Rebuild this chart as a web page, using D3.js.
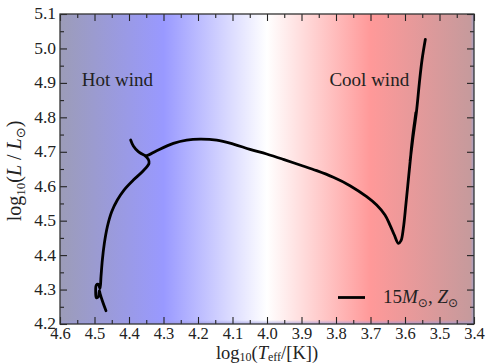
<!DOCTYPE html>
<html><head><meta charset="utf-8">
<script src="https://cdn.jsdelivr.net/npm/d3@7"></script>
<style>
html,body{margin:0;padding:0;background:#fff;}
svg{display:block;}
text{font-family:"Liberation Serif","DejaVu Serif",serif;fill:#222;}
</style></head><body>
<svg id="c" width="487" height="364"></svg>
<script>
// ---- data ----
const xTicks = [4.6,4.5,4.4,4.3,4.2,4.1,4.0,3.9,3.8,3.7,3.6,3.5,3.4];
const yTicks = [4.2,4.3,4.4,4.5,4.6,4.7,4.8,4.9,5.0,5.1];
const xMinor = [4.55,4.45,4.35,4.25,4.15,4.05,3.95,3.85,3.75,3.65,3.55,3.45];
const yMinor = [4.25,4.35,4.45,4.55,4.65,4.75,4.85,4.95,5.05];
// background colour stops (logTeff, colour)
const bgTemp   = [4.6, 4.3, 4.0, 3.7, 3.41, 3.4];
const bgColour = ["#9c9cb8", "#9999ff", "#ffffff", "#ff9999", "#c69a9c", "#a4a2cc"];
// evolutionary track: log Teff, log L
const trackTeff = [4.4667,4.4763,4.4841,4.4860,4.4889,4.4947,4.4966,4.4947,4.4889,4.4841,4.4812,4.4773,4.4715,4.4628,4.4502,4.4338,4.4145,4.3874,4.3585,4.3420,4.3440,4.3565,4.3730,4.3874,4.3952,4.3874,4.3730,4.3565,4.3488,4.3198,4.2715,4.2329,4.1942,4.1459,4.0976,4.0493,4.0010,3.9527,3.9043,3.8560,3.8077,3.7594,3.7111,3.6821,3.6580,3.6435,3.6309,3.6193,3.6116,3.6048,3.5971,3.5894,3.5817,3.5739,3.5681,3.5778,3.5855,3.5778,3.5662,3.5585,3.5507,3.5410];
const trackLum  = [4.2386,4.2647,4.2890,4.2967,4.2792,4.2763,4.2938,4.3131,4.3151,4.3035,4.3373,4.3857,4.4341,4.4825,4.5261,4.5599,4.5890,4.6180,4.6451,4.6664,4.6780,4.6906,4.7003,4.7167,4.7341,4.7167,4.7003,4.6906,4.6887,4.7032,4.7245,4.7341,4.7370,4.7341,4.7225,4.7071,4.6935,4.6780,4.6616,4.6451,4.6258,4.6016,4.5696,4.5454,4.5164,4.4873,4.4583,4.4341,4.4418,4.4777,4.5503,4.6277,4.7051,4.7729,4.8164,4.7438,4.6712,4.7341,4.8213,4.8987,4.9664,5.0265];
const regionLabels = [{t:"Hot wind", x:4.537, y:4.89}, {t:"Cool wind", x:3.819, y:4.89}];

// ---- chart ----
const svg = d3.select("#c");
const L=60, R=474, T=14, B=324;
const x = d3.scaleLinear().domain([4.6,3.4]).range([L,R]);
const y = d3.scaleLinear().domain([4.2,5.1]).range([B,T]);
const defs = svg.append("defs");
const grad = defs.append("linearGradient").attr("id","bg")
  .attr("gradientUnits","userSpaceOnUse").attr("x1",L).attr("x2",R).attr("y1",0).attr("y2",0);
bgTemp.forEach((t,i)=>grad.append("stop").attr("offset",(x(t)-L)/(R-L)).attr("stop-color",bgColour[i]));
svg.append("rect").attr("x",L).attr("y",T).attr("width",R-L).attr("height",B-T).attr("fill","url(#bg)");
const vg = defs.append("linearGradient").attr("id","bot").attr("x1",0).attr("x2",0).attr("y1",0).attr("y2",1);
vg.append("stop").attr("offset",0).attr("stop-color","#9a9ae0").attr("stop-opacity",0);
vg.append("stop").attr("offset",1).attr("stop-color","#9a9ae0").attr("stop-opacity",0.7);
svg.append("rect").attr("x",L).attr("y",B-4).attr("width",R-L).attr("height",4).attr("fill","url(#bot)");

// track
const pts = trackTeff.map((t,i)=>[t,trackLum[i]]);
svg.append("path").datum(pts)
  .attr("d", d3.line().x(d=>x(d[0])).y(d=>y(d[1])).curve(d3.curveCatmullRom.alpha(0.5)))
  .attr("fill","none").attr("stroke","#000").attr("stroke-width",2.8).attr("stroke-linejoin","round").attr("stroke-linecap","round");

// axes
const fmt = d3.format(".1f");
function styleAxis(g){ g.select(".domain").remove(); g.selectAll("line").attr("stroke","#222").attr("stroke-width",1.1); }
svg.append("g").attr("transform",`translate(0,${B})`)
  .call(d3.axisBottom(x).tickValues(xTicks).tickFormat(fmt).tickSizeInner(-7).tickSizeOuter(0).tickPadding(4))
  .call(styleAxis).call(g=>g.selectAll("text").attr("font-size",16.5).attr("font-family","Liberation Serif").attr("fill","#222").attr("dy","0.66em"));
svg.append("g").attr("transform",`translate(0,${B})`).call(d3.axisBottom(x).tickValues(xMinor).tickFormat("").tickSizeInner(-4).tickSizeOuter(0)).call(styleAxis);
svg.append("g").attr("transform",`translate(0,${T})`).call(d3.axisTop(x).tickValues(xTicks).tickFormat("").tickSizeInner(-7).tickSizeOuter(0)).call(styleAxis);
svg.append("g").attr("transform",`translate(0,${T})`).call(d3.axisTop(x).tickValues(xMinor).tickFormat("").tickSizeInner(-4).tickSizeOuter(0)).call(styleAxis);
svg.append("g").attr("transform",`translate(${L},0)`)
  .call(d3.axisLeft(y).tickValues(yTicks).tickFormat(fmt).tickSizeInner(-7).tickSizeOuter(0).tickPadding(4))
  .call(styleAxis).call(g=>g.selectAll("text").attr("font-size",17.5).attr("font-family","Liberation Serif").attr("fill","#222").attr("dy","0.28em"));
svg.append("g").attr("transform",`translate(${L},0)`).call(d3.axisLeft(y).tickValues(yMinor).tickFormat("").tickSizeInner(-4).tickSizeOuter(0)).call(styleAxis);
svg.append("g").attr("transform",`translate(${R},0)`).call(d3.axisRight(y).tickValues(yTicks).tickFormat("").tickSizeInner(-7).tickSizeOuter(0)).call(styleAxis);
svg.append("g").attr("transform",`translate(${R},0)`).call(d3.axisRight(y).tickValues(yMinor).tickFormat("").tickSizeInner(-4).tickSizeOuter(0)).call(styleAxis);
svg.append("rect").attr("x",L).attr("y",T).attr("width",R-L).attr("height",B-T).attr("fill","none").attr("stroke","#333").attr("stroke-width",1.3);

// region labels
svg.selectAll("text.reg").data(regionLabels).join("text").attr("class","reg")
  .attr("x",d=>x(d.x)).attr("y",d=>y(d.y)).attr("font-size",19).text(d=>d.t);

// x label
const xl = svg.append("text").attr("x",(L+R)/2).attr("y",359).attr("text-anchor","middle").attr("font-size",18.5);
xl.append("tspan").text("log");
xl.append("tspan").attr("font-size",12).attr("dy",2).text("10");
xl.append("tspan").attr("dy",-2).text("(");
xl.append("tspan").attr("font-style","italic").text("T");
xl.append("tspan").attr("font-size",12).attr("dy",2).text("eff");
xl.append("tspan").attr("dy",-2).text("/[K])");

// y label
const yl = svg.append("text").attr("transform",`translate(21,${(T+B)/2+2}) rotate(-90)`).attr("text-anchor","middle").attr("font-size",20);
yl.append("tspan").text("log");
yl.append("tspan").attr("font-size",13).attr("dy",4).text("10");
yl.append("tspan").attr("dy",-4).text("(");
yl.append("tspan").attr("font-style","italic").text("L");
yl.append("tspan").text(" / ");
yl.append("tspan").attr("font-style","italic").text("L");
yl.append("tspan").attr("font-size",13).attr("dy",4).attr("font-family","DejaVu Sans").text("⊙");
yl.append("tspan").attr("dy",-4).text(")");

// legend
svg.append("line").attr("x1",338).attr("x2",365).attr("y1",297.5).attr("y2",297.5).attr("stroke","#000").attr("stroke-width",2.8);
const lt = svg.append("text").attr("x",383).attr("y",303).attr("font-size",19);
lt.append("tspan").text("15");
lt.append("tspan").attr("font-style","italic").text("M");
lt.append("tspan").attr("font-size",12).attr("dy",4).attr("font-family","DejaVu Sans").text("⊙");
lt.append("tspan").attr("dy",-4).text(", ");
lt.append("tspan").attr("font-style","italic").text("Z");
lt.append("tspan").attr("font-size",12).attr("dy",4).attr("font-family","DejaVu Sans").text("⊙");
</script>
</body></html>
